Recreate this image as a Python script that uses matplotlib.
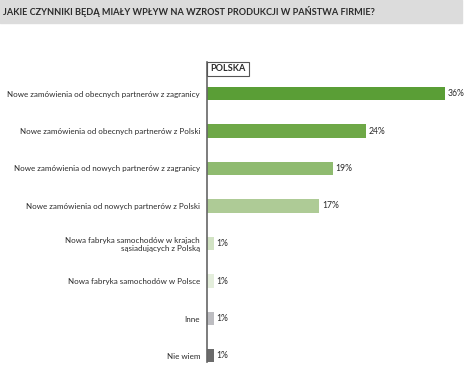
import matplotlib
matplotlib.use("Agg")
import matplotlib.pyplot as plt
from matplotlib.patches import Rectangle

title = "JAKIE CZYNNIKI BĘDĄ MIAŁY WPŁYW NA WZROST PRODUKCJI W PAŃSTWA FIRMIE?"
categories = [
    "Nowe zamówienia od obecnych partnerów z zagranicy",
    "Nowe zamówienia od obecnych partnerów z Polski",
    "Nowe zamówienia od nowych partnerów z zagranicy",
    "Nowe zamówienia od nowych partnerów z Polski",
    "Nowa fabryka samochodów w krajach\nsąsiadujących z Polską",
    "Nowa fabryka samochodów w Polsce",
    "Inne",
    "Nie wiem",
]
values = [36, 24, 19, 17, 1, 1, 1, 1]
colors = ["#5a9e36", "#6ea847", "#8fbb70", "#aecb96",
          "#d2e3c4", "#e4eedc", "#bdbdc1", "#6b6b6b"]
series_name = "POLSKA"

W, H = 467, 367
plt.rcParams["font.family"] = ["Lato", "DejaVu Sans"]
fig = plt.figure(figsize=(W / 100, H / 100), dpi=100)

# header band
fig.patches.append(Rectangle((0, 1 - 22.5 / H), 462 / W, 22.5 / H,
                             transform=fig.transFigure, color="#dcdcdc", zorder=0))
fig.text(3 / W, 1 - 11.5 / H, title, fontsize=6.55, fontweight="bold",
         color="#2b2b2b", va="center", ha="left")

# axes: left edge at 207 px, top 62 px, bottom 362 px
ax = fig.add_axes([207 / W, 5 / H, 255 / W, 300 / H])
y = list(range(len(values)))
ax.barh(y, values, height=0.35, color=colors, zorder=2)
ax.set_ylim(7.16, -0.84)
ax.set_xlim(0, 255 / 6.61)

for yi, v in zip(y, values):
    ax.text(v + 0.4, yi, f"{v}%", va="center", ha="left",
            fontsize=6.2, color="#2b2b2b")

ax.set_yticks(y)
ax.set_yticklabels(categories, fontsize=5.8, color="#2b2b2b")
ax.tick_params(axis="y", length=0, pad=5)
ax.set_xticks([])
for s in ["top", "right", "bottom"]:
    ax.spines[s].set_visible(False)
ax.spines["left"].set_color("#666666")
ax.spines["left"].set_linewidth(1.2)

# series label box
fig.patches.append(Rectangle((207 / W, 1 - 75.5 / H), 42 / W, 13.5 / H,
                             transform=fig.transFigure, facecolor="white",
                             edgecolor="#555555", linewidth=0.8, zorder=3))
fig.text(228 / W, 1 - 68.8 / H, series_name, fontsize=6.6, fontweight="bold",
         color="#2b2b2b", ha="center", va="center", zorder=4)

fig.savefig("out.png", dpi=100)
